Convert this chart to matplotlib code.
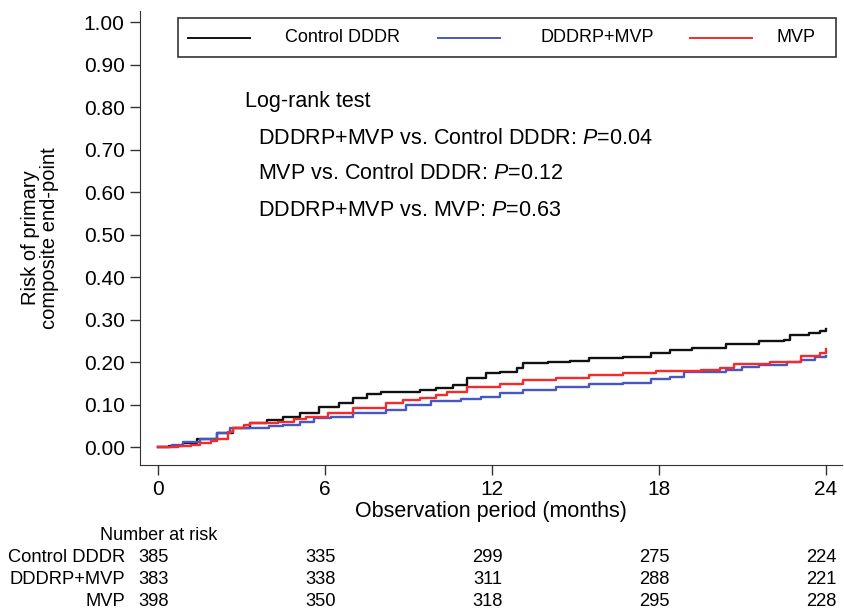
import matplotlib
matplotlib.use("Agg")
import matplotlib.pyplot as plt
from matplotlib.lines import Line2D
from matplotlib.patches import Rectangle
from matplotlib.transforms import blended_transform_factory

plt.rcParams['font.family'] = ['Liberation Sans', 'DejaVu Sans']
plt.rcParams['mathtext.fontset'] = 'custom'
plt.rcParams['mathtext.rm'] = 'Liberation Sans'
plt.rcParams['mathtext.it'] = 'Liberation Sans:italic'

# cumulative risk curves (months, risk)
ctrl_t = [0, 0.4, 0.9, 1.4, 2.1, 2.7, 3.3, 3.9, 4.5, 5.1, 5.8, 6.5, 7.0, 7.5, 8.0,
          9.4, 10.0, 10.6, 11.1, 11.8, 12.3, 12.9, 13.1, 14.0, 14.8, 15.5, 16.7,
          17.7, 18.4, 19.2, 20.4, 21.6, 22.5, 22.7, 23.4, 23.8, 24.0]
ctrl_r = [0, 0.003, 0.01, 0.018, 0.033, 0.045, 0.057, 0.063, 0.071, 0.08, 0.094,
          0.103, 0.115, 0.125, 0.13, 0.134, 0.14, 0.146, 0.162, 0.174, 0.177,
          0.186, 0.198, 0.2, 0.202, 0.209, 0.212, 0.221, 0.228, 0.233, 0.242,
          0.249, 0.252, 0.263, 0.268, 0.274, 0.278]

combo_t = [0, 0.5, 0.9, 1.5, 2.1, 2.6, 3.3, 4.0, 4.5, 5.1, 5.6, 6.2, 7.0, 8.2,
           8.9, 9.8, 10.9, 11.6, 12.3, 13.1, 14.3, 15.5, 16.7, 17.7, 18.4, 18.9,
           20.4, 21.0, 21.6, 22.6, 23.1, 23.6, 24.0]
combo_r = [0, 0.005, 0.012, 0.02, 0.033, 0.045, 0.045, 0.05, 0.052, 0.06, 0.068,
           0.07, 0.08, 0.087, 0.099, 0.108, 0.113, 0.118, 0.127, 0.134, 0.142,
           0.148, 0.151, 0.16, 0.165, 0.177, 0.181, 0.188, 0.193, 0.2, 0.205,
           0.212, 0.214]

mvp_t = [0, 0.7, 1.2, 1.5, 1.9, 2.1, 2.5, 2.7, 3.1, 3.3, 4.3, 4.9, 5.3, 6.1, 7.0,
         8.2, 8.8, 9.4, 10.0, 10.4, 11.1, 12.3, 13.1, 14.3, 15.5, 16.7, 17.9,
         19.5, 20.2, 20.7, 22.0, 23.1, 23.8, 24.0]
mvp_r = [0, 0.003, 0.005, 0.01, 0.015, 0.02, 0.035, 0.045, 0.053, 0.057, 0.06,
         0.067, 0.072, 0.08, 0.092, 0.103, 0.11, 0.115, 0.122, 0.13, 0.142, 0.148,
         0.158, 0.162, 0.169, 0.174, 0.178, 0.181, 0.186, 0.195, 0.2, 0.214,
         0.221, 0.231]

groups = ['Control DDDR', 'DDDRP+MVP', 'MVP']
colors = ['#111111', '#4658c4', '#f52a2a']

# number at risk
risk_months = [0, 6, 12, 18, 24]
at_risk = {
    'Control DDDR': [385, 335, 299, 275, 224],
    'DDDRP+MVP': [383, 338, 311, 288, 221],
    'MVP': [398, 350, 318, 295, 228],
}

logrank = [
    ('DDDRP+MVP vs. Control DDDR', '0.04'),
    ('MVP vs. Control DDDR', '0.12'),
    ('DDDRP+MVP vs. MVP', '0.63'),
]

W, H = 844, 608
fig = plt.figure(figsize=(W / 100, H / 100), dpi=100)


def fx(px):
    return px / W


def fy(py):
    return 1 - py / H


ax = fig.add_axes([fx(140), fy(465), (842 - 140) / W, (465 - 11) / H])

for t, r, c in zip([ctrl_t, combo_t, mvp_t], [ctrl_r, combo_r, mvp_r], colors):
    ax.plot(t, r, drawstyle='steps-post', color=c, lw=1.7)

ax.set_xlim(-0.65, 24.58)
ax.set_ylim(-0.042, 1.026)
ax.set_xticks(risk_months)
ax.set_yticks([i / 10 for i in range(11)])
ax.set_yticklabels([f'{i / 10:.2f}' for i in range(11)])
ax.spines['top'].set_visible(False)
ax.spines['right'].set_visible(False)
ax.spines['left'].set_color('#333333')
ax.spines['bottom'].set_color('#333333')
ax.tick_params(direction='out', length=7, width=1, color='#333333',
               labelsize=15, pad=4)
ax.set_xlabel('Observation period (months)', fontsize=15.5, labelpad=1)
ax.set_ylabel('Risk of primary\ncomposite end-point', fontsize=14.5,
              linespacing=0.95, labelpad=18)

# legend box, drawn in figure pixels
fig.add_artist(Rectangle((fx(178), fy(57)), (836 - 178) / W, (57 - 18) / H,
                         fill=False, edgecolor='#333333', lw=1.2))
key_x = [(188, 250), (438, 500), (690, 752)]
txt_x = [285, 540, 777]
for (x0, x1), tx, name, c in zip(key_x, txt_x, groups, colors):
    fig.add_artist(Line2D([fx(x0), fx(x1)], [fy(38), fy(38)], color=c, lw=1.4))
    fig.text(fx(tx), fy(38), name, fontsize=13, va='center', ha='left')

# log-rank annotations
fig.text(fx(245), fy(102), 'Log-rank test', fontsize=15.5, va='center')
for i, (comp, p) in enumerate(logrank):
    fig.text(fx(258), fy(138 + 36 * i), comp + ': $\\mathit{P}$=' + p,
             fontsize=15.5, va='center')

# number at risk table
trans = blended_transform_factory(ax.transData, fig.transFigure)
fig.text(fx(100), fy(535), 'Number at risk', fontsize=13, va='center')
for j, name in enumerate(groups):
    yy = fy(558 + 21.5 * j)
    fig.text(fx(125), yy, name, fontsize=13.2, va='center', ha='right')
    for m, n in zip(risk_months, at_risk[name]):
        ax.text(m - 0.15, yy, str(n), fontsize=13.2, va='center', ha='center',
                transform=trans)

fig.savefig('out.png', dpi=100)
